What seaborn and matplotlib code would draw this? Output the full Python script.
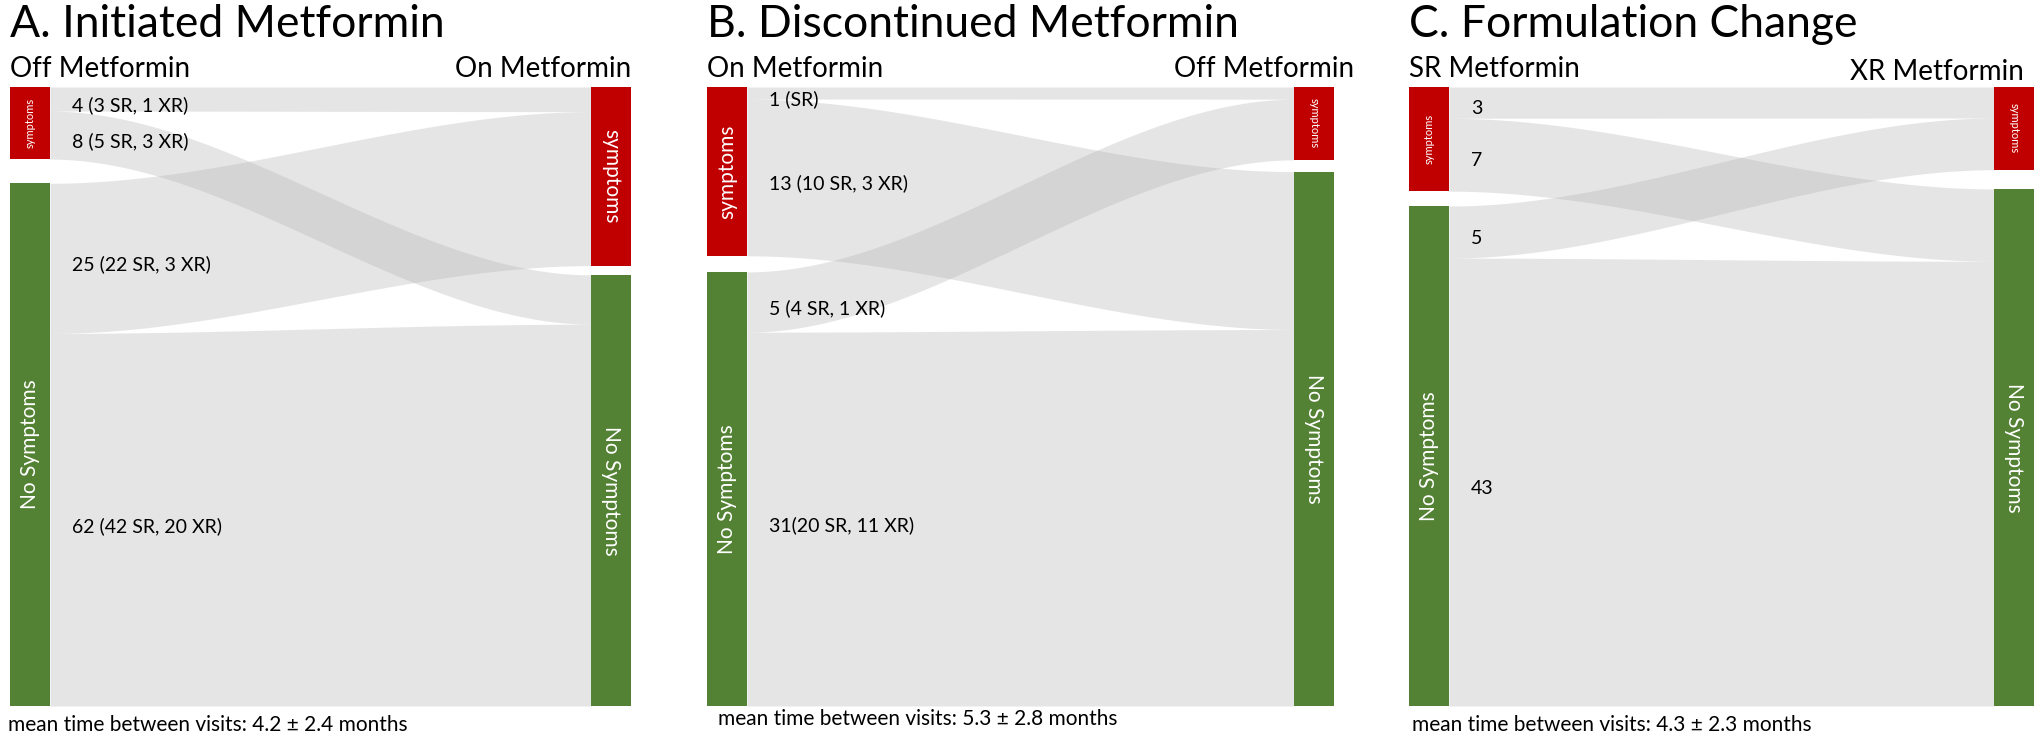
import numpy as np
import matplotlib
matplotlib.use("Agg")
import matplotlib.pyplot as plt
import seaborn as sns

# data #
panel_titles = ["A. Initiated Metformin", "B. Discontinued Metformin", "C. Formulation Change"]
left_headers = ["Off Metformin", "On Metformin", "SR Metformin"]
right_headers = ["On Metformin", "Off Metformin", "XR Metformin"]
node_names = ["symptoms", "No Symptoms"]
# flows in order: symptoms->symptoms, symptoms->none, none->symptoms, none->none
flow_counts = [[4, 8, 25, 62],
               [1, 13, 5, 31],
               [3, 7, 5, 43]]
flow_labels = [["4 (3 SR, 1 XR)", "8 (5 SR, 3 XR)", "25 (22 SR, 3 XR)", "62 (42 SR, 20 XR)"],
               ["1 (SR)", "13 (10 SR, 3 XR)", "5 (4 SR, 1 XR)", "31(20 SR, 11 XR)"],
               ["3", "7", "5", "43"]]
footers = ["mean time between visits: 4.2 \u00b1 2.4 months",
           "mean time between visits: 5.3 \u00b1 2.8 months",
           "mean time between visits: 4.3 \u00b1 2.3 months"]

# layout #
W, H = 2040, 739
panel_px = [(10, 631), (707, 1334), (1409, 2034)]
node_top_px, node_bot_px = 87, 706
gaps = [(0.039, 0.015), (0.026, 0.019), (0.024, 0.031)]   # left / right gap, fraction of height
right_head_dx = [0, 20, -10]
right_head_base = [77, 77, 80]
footer_dx = [-2, 11, 3]
footer_y = [725, 719, 725]
bar_px = 40
red, green = "#C00000", "#548235"
flow_col = "#b1b1b1"

sns.set_theme(style="white")
plt.rcParams["font.family"] = ["Lato", "DejaVu Sans"]

fig = plt.figure(figsize=(W / 100, H / 100), dpi=100)
ax_h = (node_bot_px - node_top_px)

for p in range(3):
    x0, x1 = panel_px[p]
    ax = fig.add_axes([x0 / W, 1 - node_bot_px / H, (x1 - x0) / W, ax_h / H])
    ax.set_axis_off()
    bw = bar_px / (x1 - x0)
    c = flow_counts[p]
    total = sum(c)
    top = 1.0
    ax.set_xlim(0, 1)
    ax.set_ylim(0, top)

    # node sizes for each side: [symptoms, none]
    left_sizes = [c[0] + c[1], c[2] + c[3]]
    right_sizes = [c[0] + c[2], c[1] + c[3]]
    gl, gr = gaps[p]
    kl = (top - gl) / total
    kr = (top - gr) / total

    # node extents (bottom, top), symptoms on top
    left_nodes = [(top - left_sizes[0] * kl, top), (0, left_sizes[1] * kl)]
    right_nodes = [(top - right_sizes[0] * kr, top), (0, right_sizes[1] * kr)]

    # flow bands
    lpos = [n[1] for n in left_nodes]
    rpos = [n[1] for n in right_nodes]
    pairs = [(0, 0), (0, 1), (1, 0), (1, 1)]
    xs = np.linspace(bw, 1 - bw, 200)
    t = (xs - bw) / (1 - 2 * bw)
    s = 3 * t ** 2 - 2 * t ** 3
    for i, (src, dst) in enumerate(pairs):
        a1 = lpos[src]
        a0 = a1 - c[i] * kl
        lpos[src] = a0
        b1 = rpos[dst]
        b0 = b1 - c[i] * kr
        rpos[dst] = b0
        lower = a0 + (b0 - a0) * s
        upper = a1 + (b1 - a1) * s
        ax.fill_between(xs, lower, upper, color=flow_col, alpha=0.32, lw=0)
        ax.text(bw + 22 / (x1 - x0), (a0 + a1) / 2 - 6 / ax_h, flow_labels[p][i],
                ha="left", va="center", fontsize=14, color="black")

    # nodes
    for j, col in enumerate([red, green]):
        for side, nodes, xpos, rot in [(0, left_nodes, 0, 90), (1, right_nodes, 1 - bw, 270)]:
            b, tp = nodes[j]
            ax.bar(xpos, tp - b, bottom=b, width=bw, align="edge", color=col, lw=0)
            hpx = (tp - b) * ax_h
            fs = 15 if hpx > 130 else 8
            ax.text(xpos + bw / 2, (b + tp) / 2, node_names[j], rotation=rot,
                    ha="center", va="center", color="white", fontsize=fs)

    # headers
    ax.text(0, 1 + (node_top_px - 77) / ax_h, left_headers[p], ha="left", va="baseline",
            fontsize=20, color="black", transform=ax.transAxes)
    ax.text(1 + right_head_dx[p] / (x1 - x0), 1 + (node_top_px - right_head_base[p]) / ax_h,
            right_headers[p], ha="right", va="baseline", fontsize=20, color="black",
            transform=ax.transAxes)

    fig.text(x0 / W, 1 - 37 / H, panel_titles[p], ha="left", va="baseline",
             fontsize=32, color="black")
    fig.text((x0 + footer_dx[p]) / W, 1 - footer_y[p] / H, footers[p], ha="left",
             va="center", fontsize=15, color="black")

plt.savefig("out.png", dpi=100)
